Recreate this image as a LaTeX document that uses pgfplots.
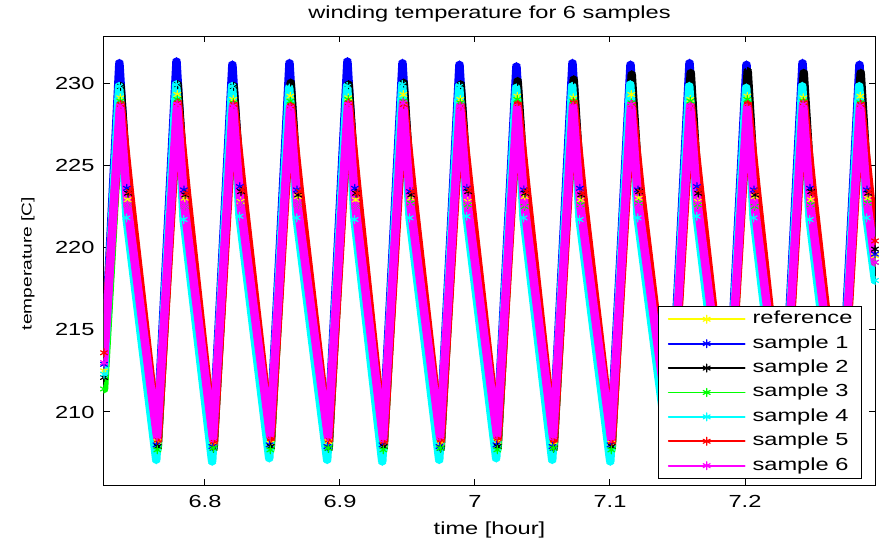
\documentclass[border=0pt]{standalone}
\usepackage{pgfplots}
\pgfplotsset{compat=1.18}
\usepackage{fontspec}
\setmainfont{Liberation Sans}[FakeStretch=1.35]
\definecolor{myellow}{RGB}{255,255,0}
\definecolor{mblue}{RGB}{0,0,255}
\definecolor{mblack}{RGB}{0,0,0}
\definecolor{mgreen}{RGB}{0,255,0}
\definecolor{mcyan}{RGB}{0,255,255}
\definecolor{mred}{RGB}{255,0,0}
\definecolor{mmagenta}{RGB}{255,0,255}
\newcommand{\lbl}{\fontsize{17.5}{21}\selectfont}
\newcommand{\ylbl}{\fontsize{14.2}{17}\selectfont}
\pgfplotsset{
  series/.style={line width=8.5pt, line join=round, line cap=round, mark=asterisk, mark size=4pt,
    mark options={line width=1.2pt, solid}, color=#1,
    legend image code/.code={
      \draw[draw=#1, line width=1.8pt] (0pt,0pt) -- (76pt,0pt);
      \path plot[mark=asterisk, mark size=4pt, mark options={draw=#1, line width=1.2pt}] coordinates {(38pt,0pt)};
    }},
}
\begin{document}
\begin{tikzpicture}
\useasboundingbox (-104pt,-57pt) rectangle (778pt,485pt);
\begin{axis}[
  scale only axis, width=771pt, height=449pt,
  xmin=6.7252, xmax=7.2963, ymin=205.56, ymax=232.86,
  xtick={6.8,6.9,7,7.1,7.2}, ytick={210,215,220,225,230},
  tick align=inside, major tick length=6pt,
  axis line style={line width=1pt, black},
  every tick/.style={black, line width=1pt},
  /pgf/number format/assume math mode=true,
  ticklabel style={font=\lbl},
  xticklabel style={yshift=-7pt},
  yticklabel style={xshift=-6pt},
  title={winding temperature for 6 samples},
  title style={at={(axis description cs:0.5,1.0356)}, anchor=center, font=\lbl},
  xlabel={time [hour]},
  xlabel style={at={(axis description cs:0.5,-0.1002)}, anchor=center, font=\lbl},
  ylabel={temperature [C]},
  ylabel style={at={(axis description cs:-0.0986,0.4933)}, anchor=center, font=\ylbl},
  legend style={at={(axis description cs:0.983,0.013)}, anchor=south east,
    draw=black, line width=1pt, fill=white, font=\lbl,
    inner xsep=9pt, inner ysep=4.5pt, row sep=7.4pt, column sep=7pt,
    nodes={inner sep=0pt, text height=13pt, text depth=4pt}},
  legend cell align=left,
]
% reference
\addplot[series=myellow] table[x=t, y=T] {
t T
6.7252 212.5
6.7372 229.1
6.7427 222.9
6.7647 208.2
6.7795 229.3
6.7850 223.0
6.8061 208.0
6.8209 229.0
6.8264 222.8
6.8484 208.1
6.8632 229.2
6.8687 223.1
6.8913 208.2
6.9061 229.1
6.9116 222.9
6.9321 208.0
6.9469 229.3
6.9524 223.0
6.9743 208.1
6.9891 229.0
6.9946 222.8
7.0165 208.2
7.0313 229.2
7.0368 223.1
7.0580 208.0
7.0728 229.1
7.0783 222.9
7.1010 208.1
7.1158 229.3
7.1213 223.0
7.1447 208.2
7.1595 229.0
7.1650 222.8
7.1869 208.0
7.2017 229.2
7.2072 223.1
7.2284 208.1
7.2432 229.1
7.2487 222.9
7.2706 208.2
7.2854 229.2
7.2909 223.0
7.2963 219.5
};
\addlegendentry{reference}
% sample 1
\addplot[series=mblue] table[x=t, y=T] {
t T
6.7252 212.9
6.7366 231.2
6.7421 223.6
6.7641 208.0
6.7789 231.3
6.7844 223.5
6.8055 207.9
6.8203 231.1
6.8258 223.7
6.8478 208.0
6.8626 231.2
6.8681 223.5
6.8907 207.9
6.9055 231.3
6.9110 223.6
6.9315 208.0
6.9463 231.2
6.9518 223.4
6.9737 207.9
6.9885 231.1
6.9940 223.6
7.0159 208.0
7.0307 231.0
7.0362 223.5
7.0574 207.9
7.0722 231.2
7.0777 223.6
7.1004 208.0
7.1152 231.1
7.1207 223.5
7.1441 207.9
7.1589 231.2
7.1644 223.7
7.1863 208.0
7.2011 231.1
7.2066 223.5
7.2278 207.9
7.2426 231.2
7.2481 223.6
7.2700 208.0
7.2848 231.1
7.2903 223.5
7.2963 219.6
};
\addlegendentry{sample 1}
% sample 2
\addplot[series=mblack] table[x=t, y=T] {
t T
6.7252 212.1
6.7375 229.8
6.7430 223.3
6.7650 207.9
6.7798 229.9
6.7853 223.2
6.8064 207.8
6.8212 229.8
6.8267 223.4
6.8487 207.9
6.8635 230.0
6.8690 223.2
6.8916 207.8
6.9064 229.9
6.9119 223.3
6.9324 207.9
6.9472 230.0
6.9527 223.2
6.9746 207.8
6.9894 229.9
6.9949 223.4
7.0168 207.9
7.0316 230.1
7.0371 223.3
7.0583 207.8
7.0731 230.2
7.0786 223.2
7.1013 207.9
7.1161 230.5
7.1216 223.4
7.1450 207.8
7.1598 230.6
7.1653 223.3
7.1872 207.9
7.2020 230.7
7.2075 223.2
7.2287 207.8
7.2435 230.6
7.2490 223.4
7.2709 207.9
7.2857 230.6
7.2912 223.3
7.2963 219.9
};
\addlegendentry{sample 2}
% sample 3
\addplot[series=mgreen] table[x=t, y=T] {
t T
6.7252 211.4
6.7372 228.9
6.7427 222.6
6.7647 207.7
6.7795 229.0
6.7850 222.5
6.8061 207.8
6.8209 228.8
6.8264 222.7
6.8484 207.7
6.8632 228.9
6.8687 222.6
6.8913 207.8
6.9061 229.0
6.9116 222.5
6.9321 207.7
6.9469 228.9
6.9524 222.7
6.9743 207.8
6.9891 228.8
6.9946 222.6
7.0165 207.7
7.0313 229.0
7.0368 222.5
7.0580 207.8
7.0728 228.9
7.0783 222.6
7.1010 207.7
7.1158 228.8
7.1213 222.7
7.1447 207.8
7.1595 228.9
7.1650 222.6
7.1869 207.7
7.2017 229.0
7.2072 222.5
7.2284 207.8
7.2432 228.9
7.2487 222.6
7.2706 207.7
7.2854 228.8
7.2909 222.7
7.2963 219.1
};
\addlegendentry{sample 3}
% sample 4
\addplot[series=mcyan] table[x=t, y=T] {
t T
6.7252 212.3
6.7364 229.8
6.7419 221.8
6.7639 207.1
6.7787 229.9
6.7842 221.7
6.8053 207.0
6.8201 229.8
6.8256 221.9
6.8476 207.2
6.8624 229.7
6.8679 221.8
6.8905 207.1
6.9053 229.8
6.9108 221.7
6.9313 207.0
6.9461 229.9
6.9516 221.8
6.9735 207.1
6.9883 229.8
6.9938 221.9
7.0157 207.2
7.0305 229.7
7.0360 221.8
7.0572 207.1
7.0720 229.8
7.0775 221.7
7.1002 207.0
7.1150 229.9
7.1205 221.8
7.1439 207.1
7.1587 229.8
7.1642 221.9
7.1861 207.2
7.2009 229.7
7.2064 221.8
7.2276 207.1
7.2424 229.8
7.2479 221.7
7.2698 207.0
7.2846 229.8
7.2901 221.8
7.2963 218.0
};
\addlegendentry{sample 4}
% sample 5
\addplot[series=mred] table[x=t, y=T] {
t T
6.7252 213.6
6.7376 228.7
6.7443 223.4
6.7651 208.3
6.7799 228.8
6.7866 223.3
6.8065 208.2
6.8213 228.7
6.8280 223.5
6.8488 208.4
6.8636 228.6
6.8703 223.4
6.8917 208.3
6.9065 228.8
6.9132 223.3
6.9325 208.2
6.9473 228.7
6.9540 223.4
6.9747 208.3
6.9895 228.6
6.9962 223.5
7.0169 208.4
7.0317 228.7
7.0384 223.4
7.0584 208.3
7.0732 228.8
7.0799 223.3
7.1014 208.2
7.1162 228.7
7.1229 223.4
7.1451 208.3
7.1599 228.6
7.1666 223.5
7.1873 208.4
7.2021 228.7
7.2088 223.4
7.2288 208.3
7.2436 228.8
7.2503 223.3
7.2710 208.2
7.2858 228.7
7.2925 223.4
7.2963 220.4
};
\addlegendentry{sample 5}
% sample 6
\addplot[series=mmagenta] table[x=t, y=T] {
t T
6.7252 213.0
6.7370 228.6
6.7425 222.6
6.7645 208.5
6.7793 228.7
6.7848 222.5
6.8059 208.4
6.8207 228.6
6.8262 222.7
6.8482 208.6
6.8630 228.5
6.8685 222.6
6.8911 208.5
6.9059 228.7
6.9114 222.5
6.9319 208.4
6.9467 228.8
6.9522 222.6
6.9741 208.5
6.9889 228.6
6.9944 222.7
7.0163 208.6
7.0311 228.5
7.0366 222.6
7.0578 208.5
7.0726 228.6
7.0781 222.5
7.1008 208.4
7.1156 228.7
7.1211 222.6
7.1445 208.5
7.1593 228.6
7.1648 222.7
7.1867 208.6
7.2015 228.5
7.2070 222.6
7.2282 208.5
7.2430 228.7
7.2485 222.5
7.2704 208.4
7.2852 228.6
7.2907 222.6
7.2963 219.1
};
\addlegendentry{sample 6}
\end{axis}
\end{tikzpicture}
\end{document}
